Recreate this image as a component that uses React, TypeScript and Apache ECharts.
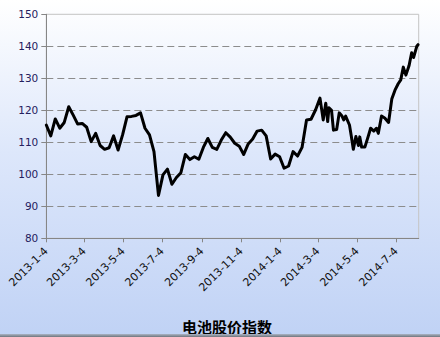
import React, { useEffect, useRef } from "react";
import * as echarts from "echarts";

// Days since 2013-1-4 for each observation
const dayIndex = [
  0, 7, 14, 21, 28, 35, 42, 49, 56, 63, 70, 77, 84, 91, 98, 105, 112, 119, 126, 133,
  140, 147, 154, 161, 168, 175, 182, 189, 196, 203, 210, 217, 224, 231, 238, 245, 252, 259, 266, 273,
  280, 287, 294, 301, 308, 315, 322, 329, 336, 343, 350, 357, 364, 371, 378, 385, 392, 399, 406, 413,
  420, 427, 432, 436, 439, 441, 445, 448, 453, 457, 461, 464, 467, 473, 476, 479, 483, 487, 489, 492,
  497, 502, 506, 511, 515, 518, 523, 528, 534, 539, 544, 549, 553, 557, 561, 566, 570, 573, 578, 580,
];

// Battery stock price index values
const indexValues = [
  115.4, 112, 117.3, 114.4, 116.2, 121.1, 118.5, 115.7, 115.9, 114.7, 110.2, 112.8, 109, 107.8, 108.3, 112, 107.6, 112.3, 118, 118.1,
  118.4, 119.2, 114.4, 112.3, 107.1, 93.4, 99.8, 101.6, 96.9, 99, 100.5, 106.2, 104.6, 105.5, 104.7, 108.4, 111.2, 108.4, 107.8, 110.7,
  113, 111.6, 109.7, 108.8, 106.2, 109.5, 111, 113.5, 113.8, 112, 104.8, 106.3, 105.5, 101.9, 102.6, 107.1, 105.7, 108.4, 117, 117.2,
  120.1, 123.8, 117, 122.2, 116.5, 120.8, 120, 113.8, 114, 119.2, 118.3, 117, 118.2, 115.4, 111.7, 107.8, 111.8, 109, 111.7, 108.5,
  108.5, 111.7, 114.4, 113.5, 114.4, 112.8, 118.2, 117.6, 116.2, 123.5, 126.3, 128.3, 129.5, 133.5, 131, 134, 138, 136.5, 140, 140.5,
];

const tickDays = [0, 59, 120, 181, 243, 304, 365, 424, 485, 546];
const tickLabels = [
  "2013-1-4", "2013-3-4", "2013-5-4", "2013-7-4", "2013-9-4",
  "2013-11-4", "2014-1-4", "2014-3-4", "2014-5-4", "2014-7-4",
];
const lastDay = 581;
const titleText = "电池股价指数";

export default function App() {
  const ref = useRef<HTMLDivElement>(null);
  useEffect(() => {
    if (!ref.current) return;
    const chart = echarts.init(ref.current, null, { renderer: "svg" });
    const data = dayIndex.map((d, i) => [d, indexValues[i]]);
    const grid = "#8c8c8c";
    chart.setOption({
      animation: false,
      grid: {
        left: 46.3,
        right: 21.3,
        top: 14.3,
        bottom: 98.7,
        show: true,
        borderColor: "#c4c4c4",
        borderWidth: 1,
        backgroundColor: "rgba(0,0,0,0)",
      },
      xAxis: {
        type: "value",
        min: 0,
        max: lastDay,
        axisLine: { show: true, lineStyle: { color: "#868686", width: 1 } },
        axisTick: {
          show: true,
          length: 4,
          customValues: tickDays,
          lineStyle: { color: "#868686" },
        },
        axisLabel: {
          customValues: tickDays,
          rotate: 45,
          margin: 11,
          color: "#111111",
          fontFamily: "DejaVu Sans",
          fontSize: 11,
          formatter: (v: number) => {
            const k = tickDays.indexOf(Math.round(v));
            return k >= 0 ? tickLabels[k] : "";
          },
        },
        splitLine: { show: false },
      },
      yAxis: {
        type: "value",
        min: 80,
        max: 150,
        interval: 10,
        axisLine: { show: true, lineStyle: { color: "#868686", width: 1 } },
        axisTick: { show: true, length: 5, lineStyle: { color: "#868686" } },
        axisLabel: {
          margin: 8,
          color: "#24205e",
          fontFamily: "DejaVu Sans",
          fontSize: 10.5,
        },
        splitLine: {
          show: true,
          lineStyle: {
            color: [
              "rgba(0,0,0,0)", grid, grid, grid, grid, grid, grid, "rgba(0,0,0,0)",
            ],
            type: [7, 4],
            width: 1,
          },
        },
      },
      graphic: [
        {
          type: "text",
          x: 227,
          y: 326,
          style: {
            text: titleText,
            fill: "#000",
            font: "bold 15px 'Noto Sans CJK SC'",
            textAlign: "center",
            textVerticalAlign: "middle",
          },
        },
        {
          type: "rect",
          shape: { x: 0, y: 334, width: 440, height: 3 },
          style: {
            fill: new echarts.graphic.LinearGradient(0, 0, 0, 1, [
              { offset: 0, color: "#aab4c4" },
              { offset: 1, color: "#70757d" },
            ]),
          },
          silent: true,
        },
      ],
      series: [
        {
          type: "line",
          data,
          showSymbol: false,
          symbol: "none",
          lineStyle: { color: "#000", width: 3, join: "round", cap: "round" },
        },
      ],
    });
    return () => chart.dispose();
  }, []);
  return (
    <div
      ref={ref}
      style={{
        position: "fixed",
        left: 0,
        top: 0,
        width: 440,
        height: 337,
        background: "linear-gradient(#ffffff 0%, #dde7fb 45%, #c0d2f5 100%)",
      }}
    />
  );
}
